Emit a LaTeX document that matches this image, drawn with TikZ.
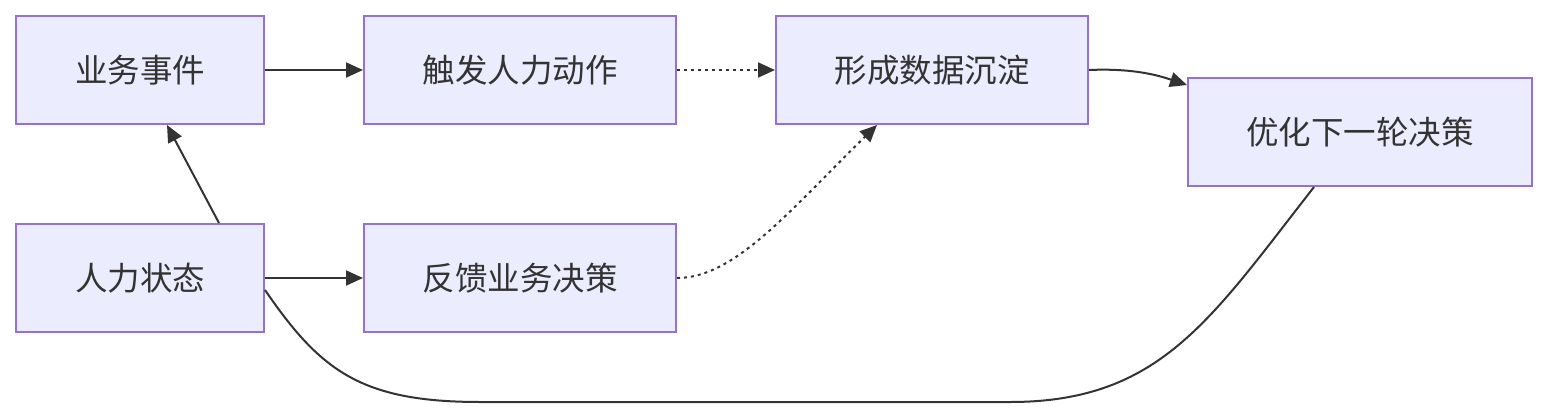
\documentclass[tikz,border=0pt]{standalone}
\usepackage{fontspec}
\newfontfamily\cjk{Noto Sans CJK SC}
\usetikzlibrary{arrows.meta}
\definecolor{boxfill}{HTML}{ECECFF}
\definecolor{boxline}{HTML}{9370DB}
\definecolor{ink}{HTML}{333333}
\begin{document}
\begin{tikzpicture}[x=1pt,y=-1pt,
  box/.style={draw=boxline,fill=boxfill,line width=2pt,inner sep=0pt,
    font=\cjk\fontsize{32.5}{36}\selectfont,text=ink},
  conn/.style={draw=ink,line width=2pt},
  tip/.style={-{Triangle[length=17pt,width=15pt]}},
  dots/.style={dash pattern=on 3pt off 4pt}]
\path[use as bounding box] (0,0) rectangle (1548,418);
\node[box,minimum width=248pt,minimum height=108pt] (evt) at (140,70) {业务事件};
\node[box,minimum width=312pt,minimum height=108pt] (act) at (520,70) {触发人力动作};
\node[box,minimum width=312pt,minimum height=108pt] (data) at (932,70) {形成数据沉淀};
\node[box,minimum width=344pt,minimum height=108pt] (opt) at (1360,132) {优化下一轮决策};
\node[box,minimum width=248pt,minimum height=108pt] (hr) at (140,278) {人力状态};
\node[box,minimum width=312pt,minimum height=108pt] (fb) at (520,278) {反馈业务决策};
\draw[conn,tip] (evt.east) -- (act.west);
\draw[conn,tip,dots] (act.east) -- (data.west);
\draw[conn,tip] (data.east) .. controls (1135,68) and (1160,76) .. ([yshift=-8pt]opt.north west);
\draw[conn,tip] ([xshift=204pt]hr.north west) -- ([xshift=152pt]evt.south west);
\draw[conn,tip] (hr.east) -- (fb.west);
\draw[conn,tip,dots] (fb.east) .. controls (735,278) and (790,210) .. ([xshift=102pt]data.south west);
\draw[conn] ([yshift=-12pt]hr.east) .. controls (320,370) and (360,402) .. (480,402)
  -- (1010,402) .. controls (1160,402) and (1210,320) .. ([xshift=127pt]opt.south west);
\end{tikzpicture}
\end{document}
